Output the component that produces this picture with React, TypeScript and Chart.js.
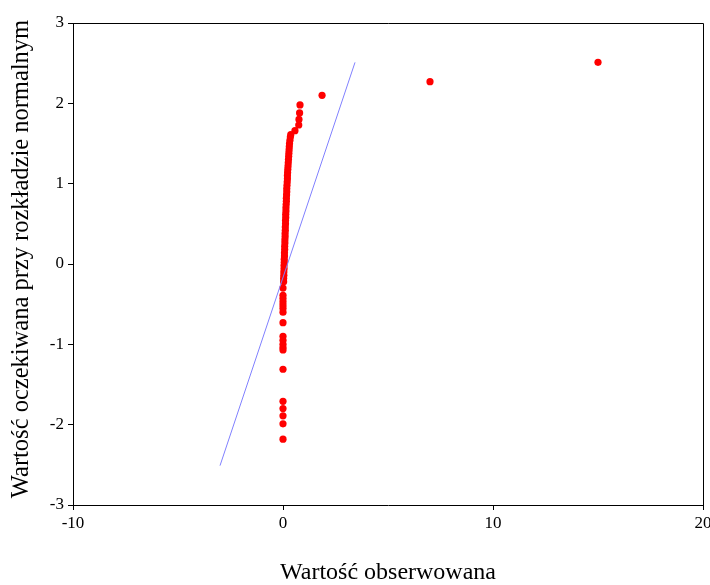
import React, { useEffect, useRef } from 'react';
import { Chart, registerables } from 'chart.js';

Chart.register(...registerables);

// Upper tail (largest observations)
const tailObserved = [15.0, 7.0, 1.86, 0.81, 0.79, 0.76, 0.75, 0.57];
const tailExpected = [2.51, 2.27, 2.10, 1.98, 1.88, 1.80, 1.73, 1.66];

// Dense band of small positive observations
const bandObserved = [
  0.03, 0.03, 0.04, 0.04, 0.05, 0.05, 0.06, 0.06, 0.07, 0.07,
  0.08, 0.08, 0.09, 0.09, 0.10, 0.10, 0.11, 0.11, 0.12, 0.12,
  0.13, 0.13, 0.14, 0.14, 0.15, 0.16, 0.16, 0.17, 0.18, 0.18,
  0.19, 0.20, 0.21, 0.21, 0.22, 0.23, 0.24, 0.25, 0.26, 0.27,
  0.28, 0.29, 0.30, 0.31, 0.33, 0.35, 0.37,
];
const bandExpected = [
  -0.22, -0.18, -0.14, -0.10, -0.06, -0.02, 0.02, 0.06, 0.10, 0.14,
  0.18, 0.22, 0.26, 0.30, 0.34, 0.38, 0.42, 0.46, 0.50, 0.54,
  0.58, 0.62, 0.66, 0.70, 0.74, 0.78, 0.82, 0.86, 0.90, 0.94,
  0.98, 1.02, 1.06, 1.10, 1.14, 1.18, 1.22, 1.26, 1.30, 1.34,
  1.38, 1.42, 1.46, 1.50, 1.54, 1.58, 1.61,
];

// Zero observations (lower part)
const lowerObserved = [
  0.0, 0.0, 0.0, 0.0, 0.0, 0.0, 0.0, 0.0, 0.0, 0.0,
  0.0, 0.0, 0.0, 0.0, 0.0, 0.0, 0.0, 0.0, 0.0,
];
const lowerExpected = [
  -0.30, -0.39, -0.43, -0.47, -0.51, -0.55, -0.60, -0.73, -0.90, -0.95,
  -1.00, -1.04, -1.07, -1.31, -1.71, -1.80, -1.89, -1.99, -2.18,
];

// Theoretical reference line
const refLineX = [-3.0, 3.43];
const refLineY = [-2.51, 2.51];

const xTitle = 'Wartość obserwowana';
const yTitle = 'Wartość oczekiwana przy rozkładzie normalnym';

const FONT = '"Liberation Serif", "Times New Roman", serif';

function toPoints(xs: number[], ys: number[]) {
  return xs.map((x, i) => ({ x, y: ys[i] }));
}

export default function App() {
  const ref = useRef<HTMLCanvasElement | null>(null);

  useEffect(() => {
    if (!ref.current) return;
    const points = [
      ...toPoints(lowerObserved, lowerExpected),
      ...toPoints(bandObserved, bandExpected),
      ...toPoints(tailObserved, tailExpected),
    ];

    const framePlugin = {
      id: 'frameAndTitles',
      afterDraw(chart: any) {
        const { ctx, chartArea } = chart;
        const { left, right, top, bottom } = chartArea;
        ctx.save();
        ctx.strokeStyle = '#000';
        ctx.lineWidth = 1;
        ctx.beginPath();
        ctx.moveTo(left, top + 0.5);
        ctx.lineTo(right + 0.5, top + 0.5);
        ctx.lineTo(right + 0.5, bottom);
        ctx.stroke();

        ctx.fillStyle = '#000';
        ctx.textAlign = 'center';
        ctx.textBaseline = 'middle';
        ctx.font = `24px ${FONT}`;
        ctx.fillText(xTitle, (left + right) / 2, 573);

        ctx.translate(22, 259);
        ctx.rotate(-Math.PI / 2);
        ctx.font = `24.5px ${FONT}`;
        ctx.fillText(yTitle, 0, 0);
        ctx.restore();
      },
    };

    const chart = new Chart(ref.current, {
      type: 'scatter',
      data: {
        datasets: [
          {
            type: 'line',
            data: toPoints(refLineX, refLineY),
            borderColor: '#8080ff',
            borderWidth: 1,
            pointRadius: 0,
            fill: false,
            order: 0,
          } as any,
          {
            data: points,
            backgroundColor: '#ff0000',
            borderWidth: 0,
            pointRadius: 3.6,
            order: 1,
          },
        ],
      },
      options: {
        animation: false,
        responsive: false,
        layout: { padding: { left: 0, top: 23, right: 7, bottom: 0 } },
        plugins: {
          legend: { display: false },
          tooltip: { enabled: false },
        },
        scales: {
          x: {
            type: 'linear',
            min: -10,
            max: 20,
            ticks: {
              stepSize: 10,
              color: '#000',
              padding: 3,
              font: { family: FONT, size: 17 },
            },
            grid: {
              drawOnChartArea: false,
              drawTicks: true,
              tickLength: 5,
              tickColor: '#000',
            },
            border: { color: '#000', width: 1 },
            afterFit(s: any) {
              s.height = 80;
              s.paddingLeft = 0;
              s.paddingRight = 0;
            },
          },
          y: {
            type: 'linear',
            min: -3,
            max: 3,
            ticks: {
              stepSize: 1,
              color: '#000',
              padding: 4,
              font: { family: FONT, size: 17 },
            },
            grid: {
              drawOnChartArea: false,
              drawTicks: true,
              tickLength: 5,
              tickColor: '#000',
            },
            border: { color: '#000', width: 1 },
            afterFit(s: any) {
              s.width = 73;
              s.paddingTop = 0;
              s.paddingBottom = 0;
            },
          },
        },
      },
      plugins: [framePlugin],
    });
    return () => chart.destroy();
  }, []);

  return (
    <div style={{ position: 'absolute', left: 0, top: 0, width: 710, height: 585, background: '#fff' }}>
      <canvas ref={ref} width={710} height={585} style={{ width: 710, height: 585 }} />
    </div>
  );
}
